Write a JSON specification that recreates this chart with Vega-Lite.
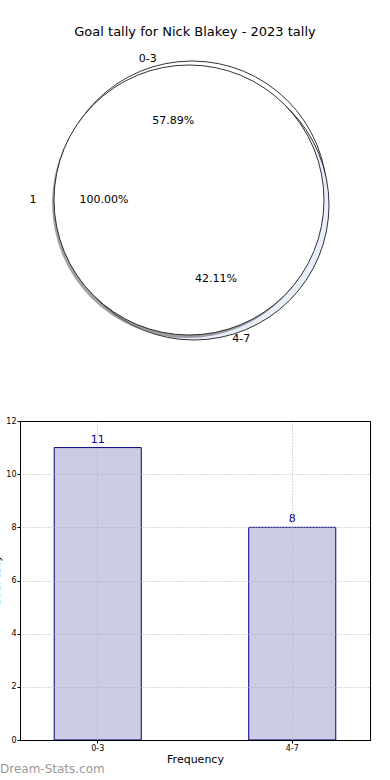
{
  "$schema": "https://vega.github.io/schema/vega-lite/v6.json",
  "padding": {"left": -10, "top": 26, "right": 0, "bottom": 0},
  "background": "white",
  "config": {"font": "DejaVu Sans", "view": {"stroke": null}},
  "datasets": {
    "tally": [
      {"range": "0-3", "count": 11, "share": 0.5789},
      {"range": "4-7", "count": 8, "share": 0.4211}
    ],
    "inner": [
      {"range": "1", "count": 1, "share": 1}
    ]
  },
  "bounds": "flush",
  "spacing": 73,
  "vconcat": [
    {
      "width": 338,
      "height": 296,
      "title": {"text": "Goal tally for Nick Blakey - 2023 tally", "fontSize": 13, "fontWeight": "normal", "offset": 13, "dx": 6, "anchor": "middle", "color": "black"},
      "resolve": {"scale": {"theta": "independent"}},
      "layer": [
        {
          "data": {"name": "tally"},
          "transform": [
            {"stack": "count", "groupby": [], "sort": [{"field": "range", "order": "descending"}], "as": ["c0", "c1"]}
          ],
          "layer": [
            {
              "transform": [{"filter": "datum.range == '0-3'"}],
              "mark": {"type": "arc", "radius": 135, "fill": "white", "stroke": "black", "strokeWidth": 0.8, "xOffset": 3, "yOffset": -4},
              "encoding": {
                "theta": {"field": "c0", "type": "quantitative", "scale": {"range": [1.5708, 7.854]}},
                "theta2": {"field": "c1"}
              }
            },
            {
              "transform": [{"filter": "datum.range == '4-7'"}],
              "mark": {"type": "arc", "radius": 135, "fill": "#e9eefb", "stroke": "black", "strokeWidth": 0.8, "xOffset": 5, "yOffset": 5},
              "encoding": {
                "theta": {"field": "c0", "type": "quantitative", "scale": {"range": [1.5708, 7.854]}},
                "theta2": {"field": "c1"}
              }
            }
          ]
        },
        {
          "data": {"name": "inner"},
          "layer": [
            {
              "mark": {"type": "arc", "radius": 135, "fill": "#666666", "opacity": 0.6, "xOffset": -2, "yOffset": 3},
              "encoding": {
                "theta": {"field": "count", "type": "quantitative", "stack": true, "scale": {"range": [1.5708, 7.854]}}
              }
            },
            {
              "mark": {"type": "arc", "radius": 135, "fill": "white", "stroke": "black", "strokeWidth": 0.8},
              "encoding": {
                "theta": {"field": "count", "type": "quantitative", "stack": true, "scale": {"range": [1.5708, 7.854]}}
              }
            },
            {
              "mark": {"type": "text", "radius": 156, "fontSize": 11, "color": "black"},
              "encoding": {
                "theta": {"field": "count", "type": "quantitative", "stack": true, "scale": {"range": [1.5708, 7.854]}},
                "text": {"field": "range"}
              }
            },
            {
              "mark": {"type": "text", "radius": 85, "fontSize": 11, "color": "black"},
              "encoding": {
                "theta": {"field": "count", "type": "quantitative", "stack": true, "scale": {"range": [1.5708, 7.854]}},
                "text": {"field": "share", "format": ".2%"}
              }
            }
          ]
        },
        {
          "data": {"name": "tally"},
          "encoding": {
            "theta": {"field": "count", "type": "quantitative", "stack": true, "scale": {"range": [1.5708, 7.854]}},
            "order": {"field": "range", "sort": "descending"},
            "detail": {"field": "range"}
          },
          "layer": [
            {
              "mark": {"type": "text", "radius": 148, "fontSize": 11, "color": "black", "dx": {"expr": "datum.range == '4-7' ? 16 : -5"}, "dy": {"expr": "datum.range == '4-7' ? -4 : 2"}},
              "encoding": {"text": {"field": "range"}}
            },
            {
              "mark": {"type": "text", "radius": 81, "fontSize": 11, "color": "black", "dx": {"expr": "datum.range == '4-7' ? 7 : 4"}},
              "encoding": {"text": {"field": "share", "format": ".2%"}}
            }
          ]
        }
      ]
    },
    {
      "width": 350,
      "height": 319,
      "data": {"name": "tally"},
      "view": {"stroke": "black", "strokeWidth": 1},
      "title": {"text": "Dream-Stats.com", "orient": "bottom", "anchor": "start", "frame": "group", "fontSize": 12, "fontWeight": "normal", "color": "#999999", "offset": 0, "dx": -20},
      "resolve": {"axis": {"x": "independent", "y": "independent"}},
      "layer": [
        {
          "mark": {"type": "bar", "fill": "#ccccE5", "stroke": "#000080", "strokeWidth": 1},
          "encoding": {
            "x": {
              "field": "range", "type": "nominal",
              "scale": {"paddingInner": 0.5525, "paddingOuter": 0.176},
              "axis": {"title": "Frequency", "zindex": 1, "titleFontSize": 11, "titleFontWeight": "normal", "titleColor": "black", "titlePadding": 1, "labelAngle": 0, "labelFontSize": 8, "labelColor": "black", "labelPadding": 1, "tickSize": 3, "tickColor": "black", "domainColor": "black", "grid": true, "gridDash": [1, 2], "gridColor": "#b0b0b0", "bandPosition": 0.5}
            },
            "y": {
              "field": "count", "type": "quantitative",
              "scale": {"domain": [0, 12]},
              "axis": {"title": "Goal tally", "zindex": 1, "values": [0, 2, 4, 6, 8, 10, 12], "titleFontSize": 11, "titleFontWeight": "normal", "titleColor": "black", "titlePadding": 4, "labelFontSize": 8, "labelColor": "black", "labelPadding": 1, "tickSize": 3, "tickColor": "black", "domainColor": "black", "grid": true, "gridDash": [1, 2], "gridColor": "#b0b0b0"}
            }
          }
        },
        {
          "mark": {"type": "text", "baseline": "bottom", "dy": -3, "fontSize": 11, "color": "#00008B"},
          "encoding": {
            "x": {"field": "range", "type": "nominal", "axis": {"orient": "top", "zindex": 2, "title": null, "labels": false, "ticks": false, "grid": false, "domainColor": "black"}},
            "y": {"field": "count", "type": "quantitative", "axis": {"orient": "right", "zindex": 2, "title": null, "labels": false, "ticks": false, "grid": false, "domainColor": "black"}},
            "text": {"field": "count"}
          }
        }
      ]
    }
  ]
}
